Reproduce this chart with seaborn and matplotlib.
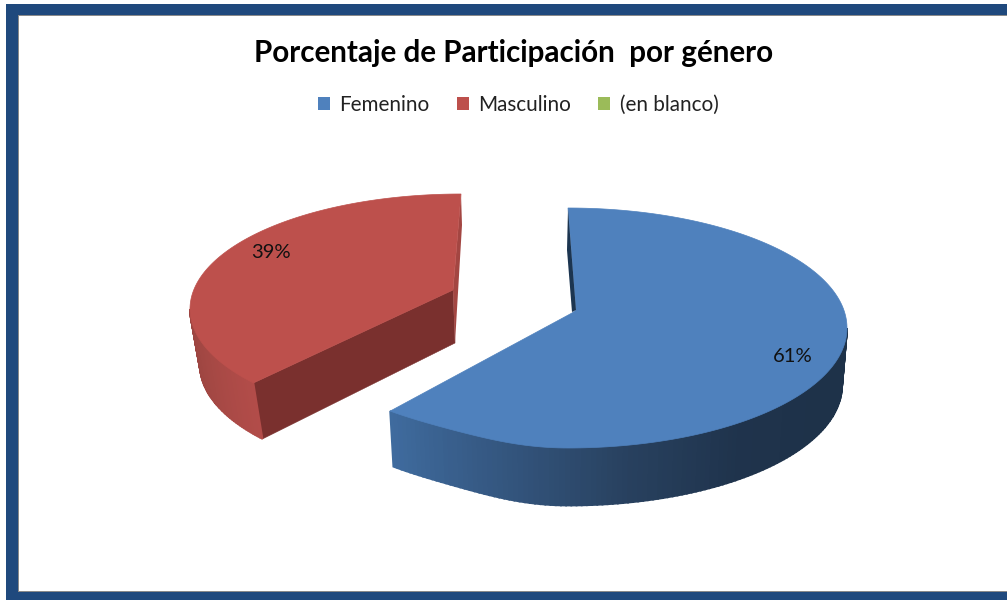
import numpy as np
import matplotlib
matplotlib.use("Agg")
import matplotlib.pyplot as plt
from matplotlib.patches import Patch, Rectangle
import seaborn as sns

categories = ["Femenino", "Masculino", "(en blanco)"]
shares = [61, 39, 0]
percent_labels = ["61%", "39%"]
title_text = "Porcentaje de Participación  por género"
palette = ["#4f81bd", "#bd504c", "#9bbb59"]

sns.set_theme(style="white")
plt.rcParams["font.family"] = ["Lato", "DejaVu Sans"]

fig, ax = plt.subplots(figsize=(10.07, 6.0), dpi=100)
ax.set_position([0, 0, 1, 1])
ax.set_xlim(0, 1007)
ax.set_ylim(600, 0)
ax.axis("off")

# frame
FRAME = "#1f497d"
for r in [(6, 4, 1001, 11), (6, 4, 12, 596), (6, 592, 1001, 8)]:
    ax.add_patch(Rectangle(r[:2], r[2], r[3], fc=FRAME, ec="none", zorder=1))
for r in [(18, 15, 989, 1.2), (18, 15, 1.2, 577), (18, 591, 989, 1.2)]:
    ax.add_patch(Rectangle(r[:2], r[2], r[3], fc="#8a8a8a", ec="none", zorder=1))


def rim(cx, cy, rx, ry, deg, lift=0.0):
    t = np.radians(deg)
    c, s = np.cos(t), np.sin(t)
    return cx + rx * c, cy - ry * s - lift * np.tanh(6 * np.clip(-c, 0, None) ** 2)


def strip(deg, top, bottom, colours, z):
    """Side wall of a slice, one shaded quad per angular step."""
    tx, ty = top(deg)
    bx, by = bottom(deg)
    for i in range(len(deg) - 1):
        ax.fill([tx[i], tx[i + 1], bx[i + 1], bx[i]],
                [ty[i], ty[i + 1], by[i + 1], by[i]],
                fc=colours[i], ec=colours[i], lw=1.3, zorder=z)


# --- Femenino slice: clockwise from 12 o'clock ---
fem_end = 90 - shares[0] * 3.6
fem_deg = np.linspace(90, fem_end, 240)
fem_top = lambda d: rim(568, 328, 279, 120, d, lift=9.5)
fem_bot = lambda d: rim(568, 385.5, 274, 120, d, lift=11.5)
side_deg = np.linspace(fem_end, 0, 120)
strip(side_deg, fem_top, fem_bot,
      sns.blend_palette(["#3f6b9e", "#34567f", "#28415f", "#1f334c", "#1e3249", "#1e3249"], 119), 3)
x, y = fem_top(fem_deg)
ax.fill(np.r_[x, 572, 576], np.r_[y, 313, 310], fc=palette[0], ec=palette[0], lw=0.5, zorder=4)
ax.fill([568, 567, 572, 576], [209, 250, 312, 310], fc="#1c3550", ec="none", zorder=5)

# --- Masculino slice: exploded, counter-clockwise from 12 o'clock ---
persp = 0.926
mas_end = 90 + shares[1] * 3.6 * persp
mas_deg = np.linspace(90, mas_end, 160)
mas_top = lambda d: rim(461, 309, 271, 115, d)
mas_bot = lambda d: rim(467, 365, 267, 115, d)
x, y = mas_top(mas_deg)
tipx, tipy = x[-1], y[-1]
tipbx, tipby = mas_bot(np.array([mas_end]))
ax.fill([tipx, 453, 455, tipbx[0]], [tipy, 290, 343, tipby[0]], fc="#7a302e", ec="#7a302e", lw=0.4, zorder=3)
ax.fill([461, 462, 455, 453], [194, 225, 343, 290], fc="#a34642", ec="none", zorder=3)
side_deg = np.linspace(180, mas_end, 50)
strip(side_deg, mas_top, mas_bot, sns.blend_palette(["#99433f", "#a44844", "#b24c49"], 49), 3)
ax.fill(np.r_[x, 453], np.r_[y, 290], fc=palette[1], ec=palette[1], lw=0.5, zorder=4)

# --- Text ---
ax.text(514, 53, title_text, ha="center", va="center", fontsize=21.3, fontweight="bold", color="black", zorder=6)
ax.text(793, 356, percent_labels[0], ha="center", va="center", fontsize=14.6, color="#111111", zorder=6)
ax.text(271, 252, percent_labels[1], ha="center", va="center", fontsize=14.6, color="#111111", zorder=6)

handles = [Patch(fc=c, ec="none", label=l) for c, l in zip(palette, categories)]
ax.legend(handles=handles, loc="center", bbox_to_anchor=(518, 105), bbox_transform=ax.transData,
          ncol=3, frameon=False, fontsize=14.9, handlelength=0.58, handleheight=0.58,
          handletextpad=0.45, columnspacing=1.33, labelcolor="#222222", borderpad=0)

fig.savefig("out.png", dpi=100, facecolor="white")
